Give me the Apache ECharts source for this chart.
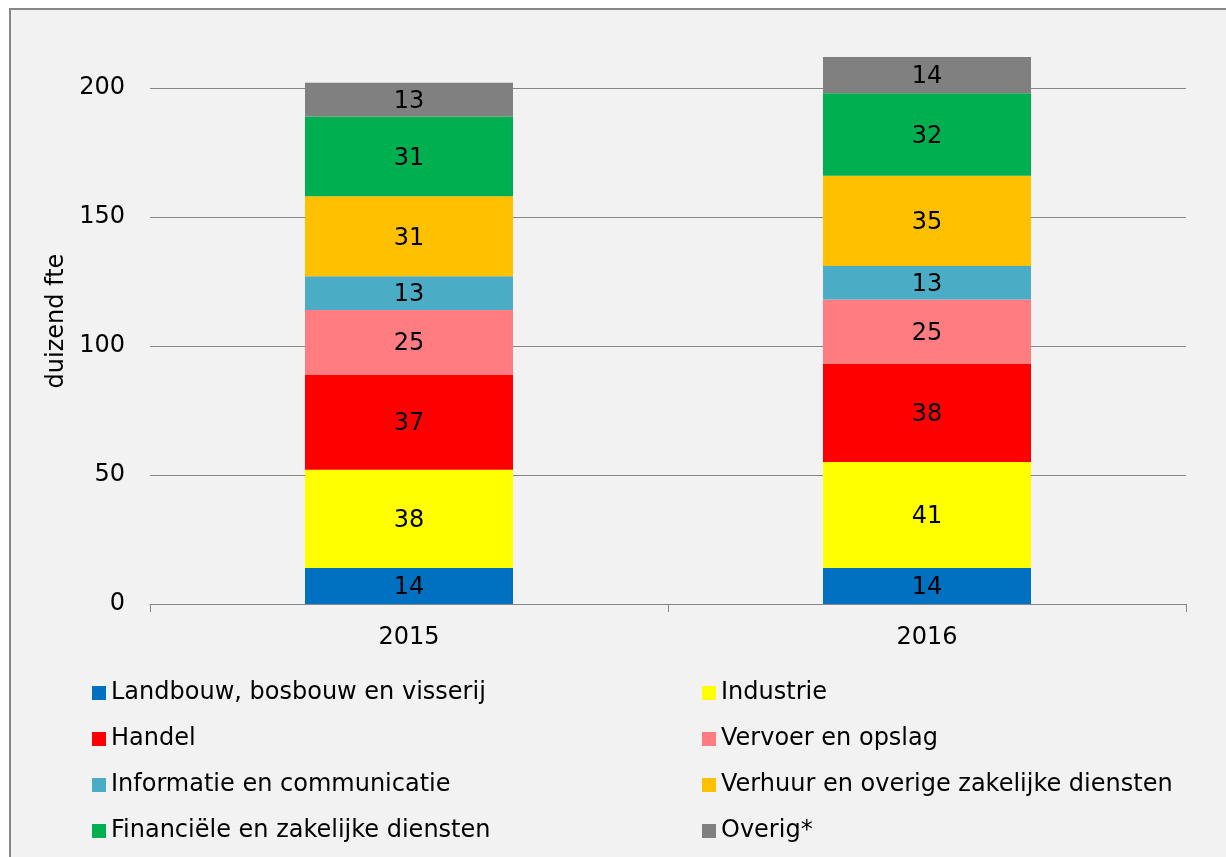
<!DOCTYPE html>
<html>
<head>
<meta charset="utf-8">
<script src="https://cdn.jsdelivr.net/npm/echarts@6/dist/echarts.min.js"></script>
<style>html,body{margin:0;padding:0;background:#fff}#c{width:1226px;height:857px}</style>
</head>
<body>
<div id="c"></div>
<script>
var categories = ['2015', '2016'];
var seriesNames = [
  'Landbouw, bosbouw en visserij',
  'Industrie',
  'Handel',
  'Vervoer en opslag',
  'Informatie en communicatie',
  'Verhuur en overige zakelijke diensten',
  'Financiële en zakelijke diensten',
  'Overig*'
];
var landbouw = [14, 14];
var industrie = [38, 41];
var handel = [37, 38];
var vervoer = [25, 25];
var informatie = [13, 13];
var verhuur = [31, 35];
var financieel = [31, 32];
var overig = [13, 14];
var colors = ['#0070C0', '#FFFF00', '#FF0000', '#FF7C80', '#4BACC6', '#FFC000', '#00B050', '#808080'];

var values = [landbouw, industrie, handel, vervoer, informatie, verhuur, financieel, overig];
var FONT = 'DejaVu Sans';
var FS = 24;

var chart = echarts.init(document.getElementById('c'), null, {renderer: 'canvas'});
var series = values.map(function (v, i) {
  return {
    name: seriesNames[i],
    type: 'bar',
    stack: 'total',
    data: v,
    barWidth: 208,
    clip: false,
    itemStyle: {color: colors[i]},
    label: {show: true, position: 'inside', offset: [0, 2], color: '#000', fontSize: FS, fontFamily: FONT},
    emphasis: {disabled: true}
  };
});
var legendLeft = [0, 2, 4, 6].map(function (i) { return seriesNames[i]; });
var legendRight = [1, 3, 5, 7].map(function (i) { return seriesNames[i]; });
function mkLegend(data, left) {
  return {
    data: data, orient: 'vertical', left: left, top: 676,
    icon: 'rect', itemWidth: 14, itemHeight: 14, itemGap: 22,
    textStyle: {color: '#000', fontSize: FS, fontFamily: FONT, lineHeight: 24},
    selectedMode: false
  };
}
chart.setOption({
  animation: false,
  backgroundColor: '#ffffff',
  graphic: [{
    type: 'rect', z: -10, silent: true,
    shape: {x: 10, y: 9, width: 1400, height: 1000},
    style: {fill: '#F2F2F2', stroke: '#878787', lineWidth: 2}
  }],
  grid: {left: 150, right: 40, top: 88, bottom: 253},
  legend: [mkLegend(legendLeft, 87), mkLegend(legendRight, 697)],
  xAxis: {
    type: 'category', data: categories,
    axisLine: {lineStyle: {color: '#868686', width: 1}},
    axisTick: {show: true, length: 8, lineStyle: {color: '#868686'}},
    axisLabel: {color: '#000', fontSize: FS, fontFamily: FONT, margin: 22}
  },
  yAxis: {
    type: 'value', min: 0, max: 200, interval: 50,
    name: 'duizend fte', nameLocation: 'middle', nameRotate: 90, nameGap: 80,
    nameTextStyle: {color: '#000', fontSize: FS, fontFamily: FONT, padding: [0, 0, 0, 50]},
    axisLine: {show: false}, axisTick: {show: false},
    axisLabel: {color: '#000', fontSize: FS, fontFamily: FONT, margin: 25},
    splitLine: {lineStyle: {color: '#868686', width: 1}}
  },
  series: series
});
</script>
</body>
</html>
